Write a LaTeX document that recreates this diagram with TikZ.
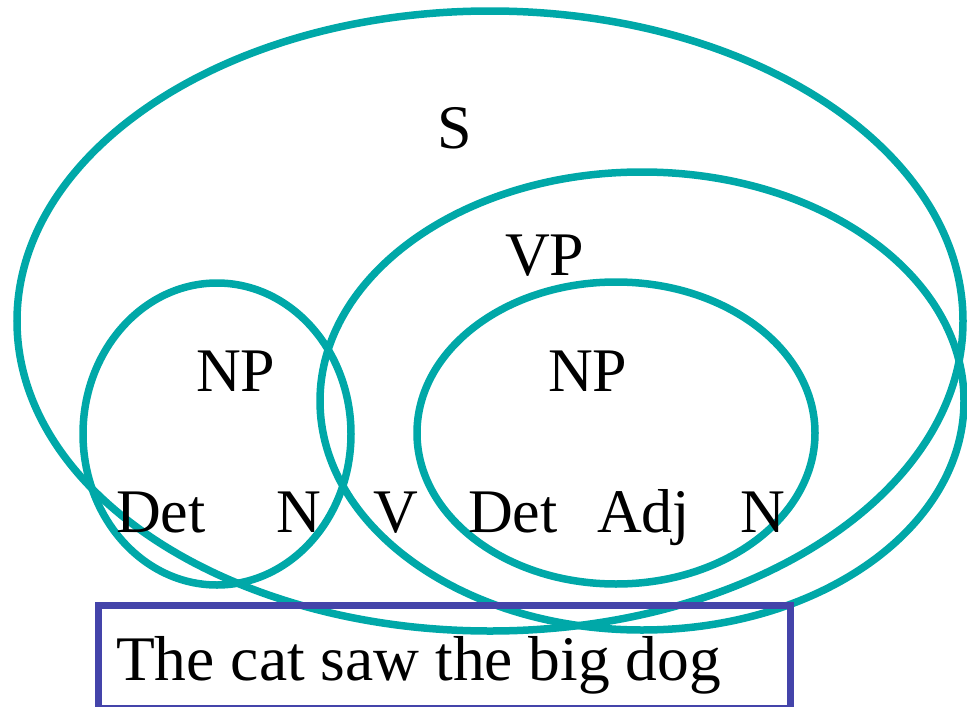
\documentclass[tikz,border=0pt]{standalone}
\usepackage{fontspec}
\setmainfont{Liberation Serif}
\newfontfamily\timesf{Liberation Serif}
\definecolor{teal1}{HTML}{00A8A8}
\definecolor{boxblue}{HTML}{4444AA}
\begin{document}
\begin{tikzpicture}[x=1pt,y=-1pt,
  ring/.style={draw=teal1,line width=7.5pt},
  lab/.style={anchor=base west,inner sep=0pt,font=\timesf\fontsize{62}{70}\selectfont}]
\useasboundingbox (0,0) rectangle (967,707);
\draw[ring] (490,321) ellipse [x radius=473pt, y radius=310pt];
\draw[ring] (642,401) ellipse [x radius=322pt, y radius=229pt];
\draw[ring] (217,434) ellipse [x radius=134pt, y radius=151pt];
\draw[ring] (616,433) ellipse [x radius=199pt, y radius=151pt];
\node[draw=boxblue,line width=6.5pt,minimum width=692pt,minimum height=103pt,anchor=north west,inner sep=0pt] (box) at (95,602) {};
\node[lab] (s) at (437,148) {S};
\node[lab] (vp) at (505,275) {VP};
\node[lab] (np1) at (196,391) {NP};
\node[lab] (np2) at (548,391) {NP};
\node[lab] (det1) at (116,532) {Det};
\node[lab] (n1) at (276,532) {N};
\node[lab] (v) at (373,532) {V};
\node[lab] (det2) at (468,532) {Det};
\node[lab] (adj) at (597,532) {Adj};
\node[lab] (n2) at (740,532) {N};
\node[lab,font=\timesf\fontsize{63.5}{70}\selectfont] (sent) at (116,680) {The cat saw the big dog};
\end{tikzpicture}
\end{document}
